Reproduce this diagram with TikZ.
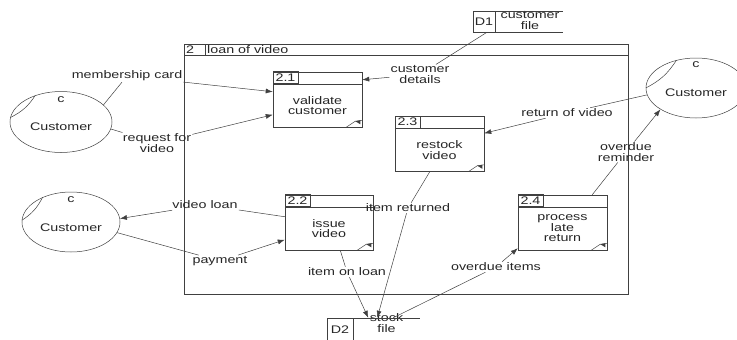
\documentclass[tikz,border=0pt]{standalone}
\usepackage{fontspec}
\setmainfont{Liberation Sans}[FakeStretch=1.3]
\usetikzlibrary{shapes.geometric,arrows.meta,positioning}

\begin{document}
\begin{tikzpicture}[
        x = 1pt, y = -1pt,
        every node/.style={
          font = \fontsize{11}{10.5}\selectfont,
          text = black!85,
        },
        box/.style={
          draw = black!75,
          line width = 0.5pt,
        },
        entity/.style={
          box, ellipse, inner sep = 0pt,
        },
        procbody/.style={
          box, minimum width = 89pt, minimum height = 43pt,
          align = center, inner sep = 1pt,
        },
        procid/.style={
          box, minimum width = 25pt, minimum height = 12pt,
          inner sep = 0pt,
        },
        storeid/.style={
          box, inner sep = 0pt,
        },
        storetext/.style={
          align = center, inner sep = 0pt,
        },
        flowlabel/.style={
          align = center, inner sep = 1pt,
        },
        flow/.style={
          draw = black!75, line width = 0.5pt,
        },
        flowto/.style={
          flow, -{Latex[length=7pt, width=5pt]},
        },
        ]
        \useasboundingbox (0,0) rectangle (737,340);

        % external entities
        \node [entity, minimum width=102pt, minimum height=61pt] (cust1) at (61,122) {};
        \node [entity, minimum width=98pt, minimum height=60pt] (cust2) at (71,222) {};
        \node [entity, minimum width=100pt, minimum height=60pt] (cust3) at (696,88) {};
        \node at ([yshift=22pt]cust1.center) {c};
        \node at ([yshift=-5pt]cust1.center) {Customer};
        \node at ([yshift=22pt]cust2.center) {c};
        \node at ([yshift=-6pt]cust2.center) {Customer};
        \node at ([yshift=23pt]cust3.center) {c};
        \node at ([yshift=-5pt]cust3.center) {Customer};
        \draw [box] (cust1.175) to [bend right=15] (cust1.134);
        \draw [box] (cust2.178) to [bend right=15] (cust2.139);
        \draw [box] (cust3.180) to [bend right=15] (cust3.125);

        % process frame
        \draw [box] (184,44) rectangle (628,294);
        \draw [box] (184,55) -- (628,55) (205,44) -- (205,55);
        \node [anchor=west, inner sep=1pt] at (185,49.5) {2};
        \node [anchor=west, inner sep=1pt] at (206,49.5) {loan of video};

        % processes
        \node [procbody] (validate) at (317.5,105.5) {validate\\customer};
        \node [procbody] (restock) at (439.5,150) {restock\\video};
        \node [procbody, minimum width=88pt] (issue) at (329,228.5) {issue\\video};
        \node [procbody] (lateret) at (562.5,228.5) {process\\late\\return};
        \foreach \p/\id in {validate/2.1, issue/2.2, restock/2.3, lateret/2.4} {
          \draw [box] (\p.north west) rectangle ([yshift=12pt]\p.north east);
          \node [procid, anchor=south west] at (\p.north west) {\id};
          \draw [box] ([xshift=-16pt]\p.south east) -- ([xshift=-7pt, yshift=6pt]\p.south east)
            -- ([yshift=7pt]\p.south east);
          \fill [black!75] ([xshift=-7pt, yshift=6pt]\p.south east) -- ([xshift=-2pt, yshift=7pt]\p.south east)
            -- ([xshift=-2pt, yshift=3pt]\p.south east) -- cycle;
        }

        % data stores
        \node [storeid, minimum width=22pt, minimum height=21pt] (d1) at (484,21.5) {D1};
        \node [storetext] (custfile) at (530,20.5) {customer\\file};
        \draw [box] (d1.north east) -- ++(68,0) (d1.south east) -- ++(68,0);
        \node [storeid, minimum width=26pt, minimum height=23pt] (d2) at (340,329.5) {D2};
        \node [storetext] (stockfile) at (386.5,323) {stock\\file};
        \draw [box] (d2.north east) -- ++(67,0) (d2.south east) -- ++(67,0);

        % data flows
        \node [flowlabel] (lmember) at (127,76) {membership card};
        \node [flowlabel] (lrequest) at (157,143) {request for\\video};
        \node [flowlabel] (ldetails) at (420,74.5) {customer\\details};
        \node [flowlabel] (lreturn) at (567,113) {return of video};
        \node [flowlabel] (lremind) at (626,152) {overdue\\reminder};
        \node [flowlabel] (lvloan) at (205,205) {video loan};
        \node [flowlabel] (lpay) at (220,261) {payment};
        \node [flowlabel] (lonloan) at (347,272) {item on loan};
        \node [flowlabel] (lreturned) at (408,208) {item returned};
        \node [flowlabel] (loverdue) at (496,267) {overdue items};

        \draw [flow] (cust1.22) -- (lmember);
        \draw [flowto] (lmember) -- ([yshift=-8pt]validate.north west);
        \draw [flow] (cust1.-8) -- (lrequest);
        \draw [flowto] (lrequest) -- ([yshift=-31pt]validate.north west);
        \draw [flow] ([xshift=3pt]d1.south) -- (ldetails);
        \draw [flowto] (ldetails) -- ([yshift=4pt]validate.north east);
        \draw [flow] (cust3.188) -- (lreturn);
        \draw [flowto] (lreturn) -- ([yshift=-5pt]restock.north east);
        \draw [flow] ([xshift=-15pt, yshift=12pt]lateret.north east) -- (lremind);
        \draw [flowto] (lremind) -- (cust3.211);
        \draw [flow] ([yshift=-10pt]issue.north west) -- (lvloan);
        \draw [flowto] (lvloan) -- (cust2.4);
        \draw [flow] (cust2.-13) -- (lpay);
        \draw [flowto] (lpay) -- ([yshift=-33pt]issue.north west);
        \draw [flow] ([xshift=-33pt]issue.south east) -- (lonloan);
        \draw [flowto] (lonloan) -- ([xshift=15pt]d2.north east);
        \draw [flow] ([xshift=35pt]restock.south west) -- (lreturned);
        \draw [flowto] (lreturned) -- ([xshift=24pt]d2.north east);
        \draw [flow] ([xshift=40pt]d2.north east) -- (loverdue);
        \draw [flowto] (loverdue) -- ([yshift=2pt]lateret.south west);
      \end{tikzpicture}
\end{document}
